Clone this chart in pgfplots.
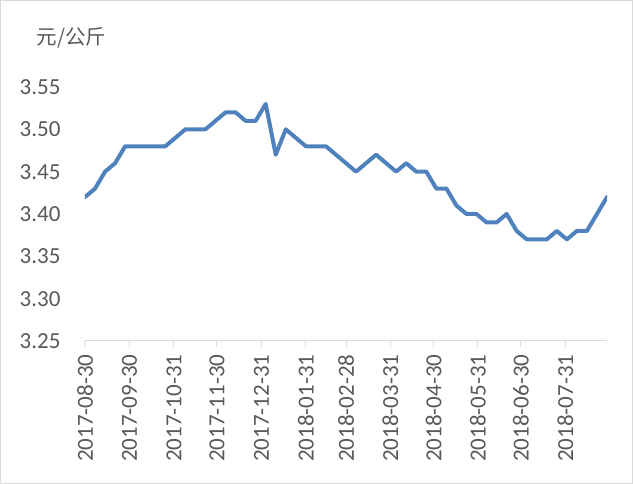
\documentclass[border=0pt]{standalone}
\usepackage{pgfplots}
\pgfplotsset{compat=1.18}
\usepackage{fontspec}
\setmainfont{Carlito}
\newfontfamily\cjk{Noto Sans CJK SC}
\definecolor{linec}{RGB}{79,129,189}
\definecolor{txt}{RGB}{89,89,89}
\definecolor{axc}{RGB}{217,217,217}

\begin{document}
\begin{tikzpicture}[x=1pt,y=1pt]
\useasboundingbox (0,0) rectangle (633,484);
\draw[axc, line width=1pt] (0.5,0.5) rectangle (632.5,483.5);
\begin{axis}[
  at={(85pt,143pt)}, anchor=south west,
  scale only axis, width=522pt, height=254pt,
  xmin=0, xmax=364, ymin=3.25, ymax=3.55,
  axis x line*=bottom, axis y line*=left,
  x axis line style={axc, line width=1pt, -},
  y axis line style={draw=none},
  ytick={3.25,3.30,3.35,3.40,3.45,3.50,3.55},
  ytick style={draw=none},
  yticklabel style={/pgf/number format/fixed, /pgf/number format/fixed zerofill,
    /pgf/number format/precision=2, xshift=-15pt},
  /pgf/number format/assume math mode=true,
  xtick={0,31,62,92,123,154,182,213,243,274,304,335},
  xticklabels={2017-08-30,2017-09-30,2017-10-31,2017-11-30,2017-12-31,2018-01-31,
    2018-02-28,2018-03-31,2018-04-30,2018-05-31,2018-06-30,2018-07-31},
  xtick style={axc, line width=1pt},
  tick align=outside, major tick length=6pt,
  xticklabel style={rotate=90, anchor=east},
  xticklabel shift=4pt,
  tick label style={font=\fontsize{23}{23}\selectfont, text=txt},
]
% x = days since 2017-08-30, weekly price
\addplot[color=linec, line width=4pt, line join=round, line cap=round, no marks] coordinates {
  (0,3.42)(7,3.43)(14,3.45)(21,3.46)(28,3.48)(35,3.48)(42,3.48)(49,3.48)(56,3.48)
  (63,3.49)(70,3.50)(77,3.50)(84,3.50)(91,3.51)(98,3.52)(105,3.52)(112,3.51)
  (119,3.51)(126,3.53)(133,3.47)(140,3.50)(147,3.49)(154,3.48)(161,3.48)(168,3.48)
  (175,3.47)(182,3.46)(189,3.45)(196,3.46)(203,3.47)(210,3.46)(217,3.45)(224,3.46)
  (231,3.45)(238,3.45)(245,3.43)(252,3.43)(259,3.41)(266,3.40)(273,3.40)(280,3.39)
  (287,3.39)(294,3.40)(301,3.38)(308,3.37)(315,3.37)(322,3.37)(329,3.38)(336,3.37)
  (343,3.38)(350,3.38)(357,3.40)(364,3.42)};
\end{axis}
\node[anchor=west, text=txt, font=\cjk\fontsize{20.5}{20.5}\selectfont] at (33,446) {元/公斤};
\end{tikzpicture}
\end{document}
